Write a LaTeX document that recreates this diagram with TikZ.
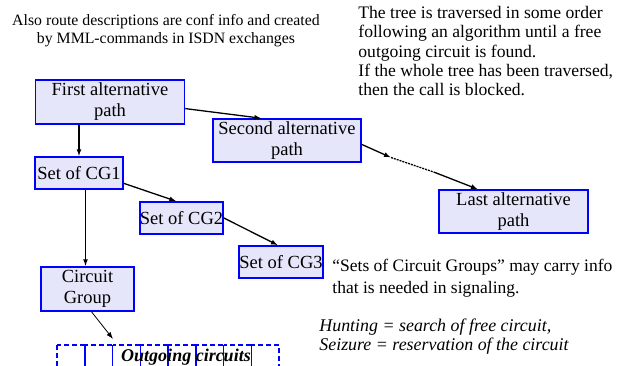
\documentclass[tikz,border=0pt]{standalone}
\usepackage{fontspec}
\setmainfont{Liberation Serif}
\usetikzlibrary{arrows.meta}
\definecolor{boxblue}{RGB}{0,0,255}
\definecolor{boxfill}{RGB}{230,230,250}
\tikzset{every picture/.style={line width=.8pt}}

\begin{document}
\begin{tikzpicture}[x=1pt,y=-1pt,>={Latex[length=7pt,width=5pt]},
 pathbox/.style={draw=boxblue,fill=boxfill,line width=1.5pt,align=center,
  inner sep=0pt,font=\fontsize{18.5}{21}\selectfont},
 note/.style={align=left,inner sep=0pt,anchor=north west},
 link/.style={->,line width=1.3pt}]
 \useasboundingbox (0,0) rectangle (635,365);
 \clip (0,0) rectangle (635,365);

 % Texts round the tree.
 \node[align=center,inner sep=0pt,font=\fontsize{15.8}{18}\selectfont] (conf) at (166,31)
  {Also route descriptions are conf info and created\\by MML-commands in ISDN exchanges};
 \node[note,font=\fontsize{17.6}{19.3}\selectfont] (order) at (358,6)
  {The tree is traversed in some order\\following an algorithm until a free\\
   outgoing circuit is found.\\If the whole tree has been traversed,\\then the call is blocked.};
 \node[note,font=\fontsize{17.5}{22}\selectfont] (sets) at (332,259)
  {``Sets of Circuit Groups'' may carry info\\that is needed in signaling.};
 \node[note,font=\fontsize{17.9}{19.5}\itshape] (hunt) at (319,318)
  {Hunting = search of free circuit,\\Seizure = reservation of the circuit};

 % The routing tree.
 \node[pathbox,minimum width=149pt,minimum height=44pt] (first) at (110,102) {First alternative\\path};
 \node[pathbox,minimum width=148pt,minimum height=43pt] (second) at (287,140.5) {Second alternative\\path};
 \node[pathbox,minimum width=149pt,minimum height=43pt] (last) at (513.5,211.5) {Last alternative\\path};
 \node[pathbox,minimum width=88pt,minimum height=32pt] (cg1) at (79,173) {Set of CG1};
 \node[pathbox,minimum width=83pt,minimum height=32pt] (cg2) at (181.5,218) {Set of CG2};
 \node[pathbox,minimum width=84pt,minimum height=32pt] (cg3) at (281,262) {Set of CG3};
 \node[pathbox,minimum width=93pt,minimum height=44pt] (cgroup) at (87.5,289) {Circuit\\Group};

 % Outgoing circuits, eight cells running off the page.
 \foreach \i in {0,...,7}{
  \draw[boxblue,line width=1.5pt,dash pattern=on 5pt off 3pt]
   (57+27.75*\i,345) rectangle (57+27.75*\i+27.75,375);
 }
 \node[inner sep=0pt,font=\fontsize{18}{20}\bfseries\itshape] (outgoing) at (186,357) {Outgoing circuits};

 \coordinate (dashA) at (391,157.5);
 \coordinate (dashB) at (435,172.5);
 \coordinate (cgtip) at (113,339);

 \draw[link] (first.-5) -- (second.139);
 \draw[link] (first.south -| cg1) -- (cg1.north);
 \draw[link] (cg1.-13) -- (cg2.107);
 \draw[link] (cg2.east) -- (cg3.100);
 \draw[link] ([xshift=-2pt]cg1.south -| cgroup) -- ([xshift=-2pt]cgroup.north);
 \draw[->,line width=.8pt] (cgroup.-80) -- (cgtip);
 \draw[link] (second.-3) -- (dashA);
 \draw[line width=1.3pt,dash pattern=on 2pt off 1pt] (dashA) -- (dashB);
 \draw[link] (dashB) -- (last.148);
\end{tikzpicture}
\end{document}
